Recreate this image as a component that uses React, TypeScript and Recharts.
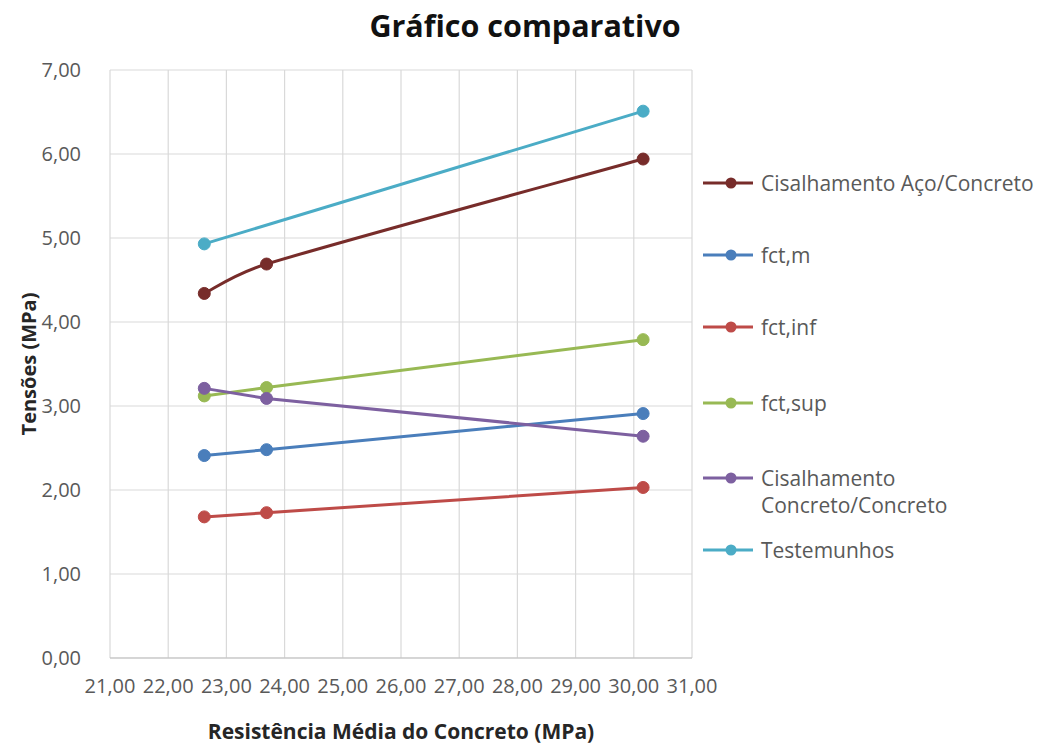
import React from "react";
import { LineChart, Line, XAxis, YAxis, CartesianGrid, Legend, Label } from "recharts";

// Resistência média do concreto (MPa) de cada série de ensaio
const resistencia = [22.62, 23.69, 30.16];

// Tensões (MPa)
const cisalhamentoAco = [4.34, 4.69, 5.94];
const fctM = [2.41, 2.48, 2.91];
const fctInf = [1.68, 1.73, 2.03];
const fctSup = [3.12, 3.22, 3.79];
const cisalhamentoConcreto = [3.21, 3.09, 2.64];

// Testemunhos só existem para duas resistências
const testemunhosResistencia = [22.62, 30.16];
const testemunhos = [4.93, 6.51];

const xTicks = [21, 22, 23, 24, 25, 26, 27, 28, 29, 30, 31];
const yTicks = [0, 1, 2, 3, 4, 5, 6, 7];

const toPoints = (xs: number[], ys: number[]) => xs.map((x, i) => ({ x, y: ys[i] }));

const series = [
  { name: "Cisalhamento Aço/Concreto", color: "#772C2A", data: toPoints(resistencia, cisalhamentoAco), smooth: true },
  { name: "fct,m", color: "#4A7EBB", data: toPoints(resistencia, fctM), smooth: false },
  { name: "fct,inf", color: "#BE4B48", data: toPoints(resistencia, fctInf), smooth: false },
  { name: "fct,sup", color: "#98B954", data: toPoints(resistencia, fctSup), smooth: false },
  { name: "Cisalhamento\nConcreto/Concreto", color: "#7D60A0", data: toPoints(resistencia, cisalhamentoConcreto), smooth: false },
  { name: "Testemunhos", color: "#4BACC6", data: toPoints(testemunhosResistencia, testemunhos), smooth: false },
];

const FONT = "'Open Sans', 'DejaVu Sans', sans-serif";
const fmt = (v: number) => v.toFixed(2).replace(".", ",");

// Spreadsheet-style smoothed line: cubic Bézier segments whose control
// vectors follow the neighbouring points, capped at half the segment length.
const smoothCurve = (context: any) => {
  let pts: [number, number][] = [];
  const ctrl = (a: [number, number], b: [number, number], seg: number): [number, number] => {
    let vx = (b[0] - a[0]) / 6;
    let vy = (b[1] - a[1]) / 6;
    const len = Math.hypot(vx, vy);
    if (len > seg / 2 && len > 0) {
      const k = seg / 2 / len;
      vx *= k;
      vy *= k;
    }
    return [vx, vy];
  };
  return {
    areaStart() {},
    areaEnd() {},
    lineStart() {
      pts = [];
    },
    point(x: number, y: number) {
      pts.push([+x, +y]);
    },
    lineEnd() {
      if (!pts.length) return;
      context.moveTo(pts[0][0], pts[0][1]);
      for (let i = 0; i < pts.length - 1; i++) {
        const p0 = pts[i - 1] || pts[i];
        const p1 = pts[i];
        const p2 = pts[i + 1];
        const p3 = pts[i + 2] || pts[i + 1];
        const seg = Math.hypot(p2[0] - p1[0], p2[1] - p1[1]);
        const v1 = ctrl(p0, p2, seg);
        const v2 = ctrl(p1, p3, seg);
        context.bezierCurveTo(p1[0] + v1[0], p1[1] + v1[1], p2[0] - v2[0], p2[1] - v2[1], p2[0], p2[1]);
      }
    },
  };
};

// vertical offsets of each legend entry inside the legend box
const legendRows = [0, 72, 144, 220, 295, 367];

const LegendContent = () => (
  <div style={{ position: "relative", width: 340, height: 400, fontFamily: FONT }}>
    {series.map((s, i) => {
      const lines = s.name.split("\n");
      return (
        <div key={s.name} style={{ position: "absolute", left: 0, top: legendRows[i], display: "flex", alignItems: "flex-start" }}>
          <svg width={52} height={26} style={{ flex: "none" }}>
            <line x1={0} y1={13} x2={50} y2={13} stroke={s.color} strokeWidth={3} />
            <circle cx={28} cy={13} r={5.5} fill={s.color} />
          </svg>
          <div style={{ marginLeft: 6, fontSize: 21, lineHeight: "27px", color: "#595959", whiteSpace: "nowrap" }}>
            {lines.map((l, j) => (
              <div key={j}>{l}</div>
            ))}
          </div>
        </div>
      );
    })}
  </div>
);

export default function App() {
  return (
    <div style={{ position: "absolute", left: 0, top: 0, width: 1042, height: 746, background: "#fff", fontFamily: FONT }}>
      <div
        style={{
          position: "absolute",
          left: 0,
          width: 1050,
          top: 5,
          textAlign: "center",
          fontSize: 30.5,
          fontWeight: 700,
          color: "#111",
          lineHeight: "40px",
        }}
      >
        Gráfico comparativo
      </div>
      <LineChart width={1042} height={746} margin={{ top: 70, right: 350, bottom: 0, left: 0 }}>
        <CartesianGrid stroke="#D9D9D9" strokeWidth={1.2} />
        <XAxis
          type="number"
          dataKey="x"
          domain={[21, 31]}
          ticks={xTicks}
          tickFormatter={fmt}
          height={88}
          stroke="#BFBFBF"
          tickLine={false}
          tick={{ fill: "#595959", fontSize: 20, fontFamily: FONT }}
          tickMargin={15}
          allowDuplicatedCategory={false}
        >
          <Label
            value="Resistência Média do Concreto (MPa)"
            position="insideBottom"
            offset={7}
            style={{ fill: "#262626", fontSize: 21, fontWeight: 700, fontFamily: FONT }}
          />
        </XAxis>
        <YAxis
          type="number"
          dataKey="y"
          domain={[0, 7]}
          ticks={yTicks}
          tickFormatter={fmt}
          width={110}
          stroke="#BFBFBF"
          tickLine={false}
          axisLine={false}
          tick={{ fill: "#595959", fontSize: 20, fontFamily: FONT }}
          tickMargin={23}
        >
          <Label
            value="Tensões (MPa)"
            angle={-90}
            position="insideLeft"
            offset={29}
            style={{ fill: "#262626", fontSize: 20, fontWeight: 700, fontFamily: FONT, textAnchor: "middle" }}
          />
        </YAxis>
        <Legend
          layout="vertical"
          align="center"
          verticalAlign="middle"
          wrapperStyle={{ left: 703, top: 170, width: 340 }}
          content={<LegendContent />}
        />
        {series.map((s) => (
          <Line
            key={s.name}
            data={s.data}
            dataKey="y"
            name={s.name}
            type={s.smooth ? (smoothCurve as any) : "linear"}
            stroke={s.color}
            strokeWidth={3}
            dot={{ r: 6, fill: s.color, stroke: s.color, strokeWidth: 1 }}
            activeDot={false}
            isAnimationActive={false}
          />
        ))}
      </LineChart>
    </div>
  );
}
